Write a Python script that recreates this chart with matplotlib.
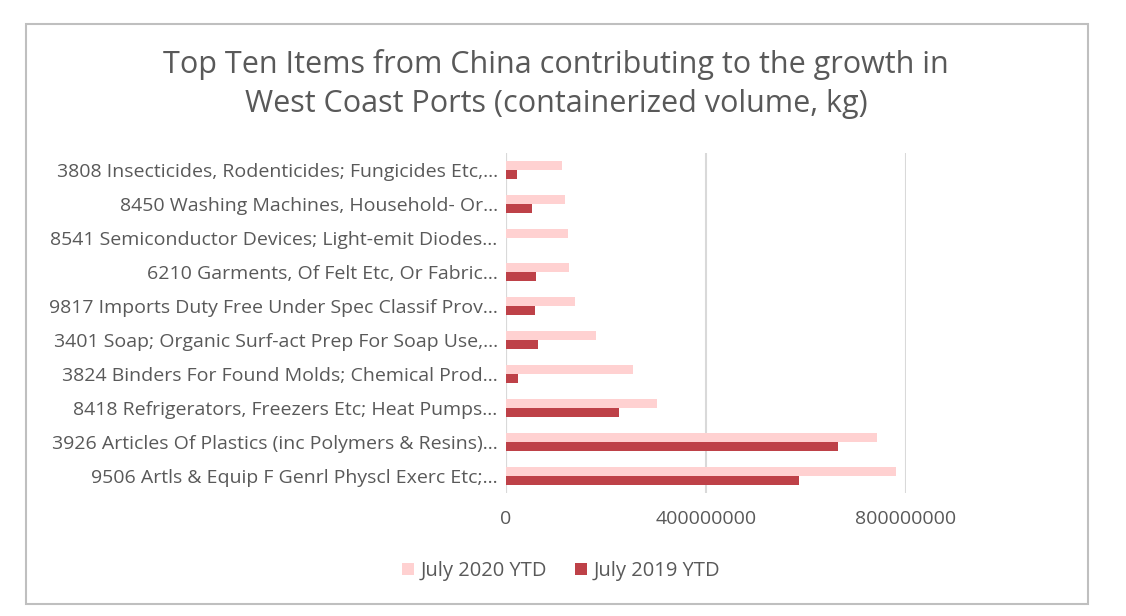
import numpy as np
import matplotlib
matplotlib.use('Agg')
import matplotlib.pyplot as plt
from matplotlib.patches import Rectangle

plt.rcParams['font.family'] = ['Open Sans', 'DejaVu Sans']

# categories listed bottom to top, as drawn on the y axis
items = [
    '9506 Artls & Equip F Genrl Physcl Exerc Etc;...',
    '3926 Articles Of Plastics (inc Polymers & Resins)...',
    '8418 Refrigerators, Freezers Etc; Heat Pumps...',
    '3824 Binders For Found Molds; Chemical Prod...',
    '3401 Soap; Organic Surf-act Prep For Soap Use,...',
    '9817 Imports Duty Free Under Spec Classif Prov...',
    '6210 Garments, Of Felt Etc, Or Fabric...',
    '8541 Semiconductor Devices; Light-emit Diodes...',
    '8450 Washing Machines, Household- Or...',
    '3808 Insecticides, Rodenticides; Fungicides Etc,...',
]
july_2020 = [780e6, 742e6, 302e6, 254e6, 180e6, 138e6, 126e6, 124e6, 117e6, 112e6]
july_2019 = [586e6, 664e6, 226e6, 24e6, 64e6, 58e6, 60e6, 0, 52e6, 22e6]
x_ticks = [0, 400000000, 800000000]

text_col = '#595959'
c2020 = '#FFD1D1'
c2019 = '#BE4148'

fig = plt.figure(figsize=(11.26, 6.16), dpi=100)
ax = fig.add_axes([506/1126, 1-493/616, 400/1126, 340/616])

y = np.arange(len(items))
h = 0.27
ax.barh(y + h/2, july_2020, height=h, color=c2020, label='July 2020 YTD', zorder=3)
ax.barh(y - h/2, july_2019, height=h, color=c2019, label='July 2019 YTD', zorder=3)

ax.set_xlim(0, 800e6)
ax.set_ylim(-0.5, 9.5)
ax.set_xticks(x_ticks)
ax.set_xticklabels([str(t) for t in x_ticks], fontsize=14, color=text_col)
ax.set_yticks(y)
ax.set_yticklabels(items, fontsize=14, color=text_col)
ax.tick_params(axis='both', length=0)
ax.tick_params(axis='x', pad=12)
ax.tick_params(axis='y', pad=6)
ax.grid(axis='x', color='#D9D9D9', linewidth=1.5, zorder=0)
ax.axvline(0, color='#D9D9D9', linewidth=1.5, zorder=1)
for s in ax.spines.values():
    s.set_visible(False)

fig.text(556/1126, 1-84/616,
         'Top Ten Items from China contributing to the growth in\nWest Coast Ports (containerized volume, kg)',
         ha='center', va='center', fontsize=22, color=text_col, linespacing=1.42)

leg = fig.legend(loc='center', bbox_to_anchor=(561/1126, 1-571/616), ncol=2, frameon=False,
                 fontsize=14.5, handlelength=0.6, handleheight=0.6, handletextpad=0.3,
                 columnspacing=1.4)
for t in leg.get_texts():
    t.set_color(text_col)

fig.patches.append(Rectangle((26/1126, 1-604/616), 1062/1126, 580/616,
                             transform=fig.transFigure, fill=False,
                             edgecolor='#BFBFBF', linewidth=1.5))

fig.savefig('out.png', dpi=100)
